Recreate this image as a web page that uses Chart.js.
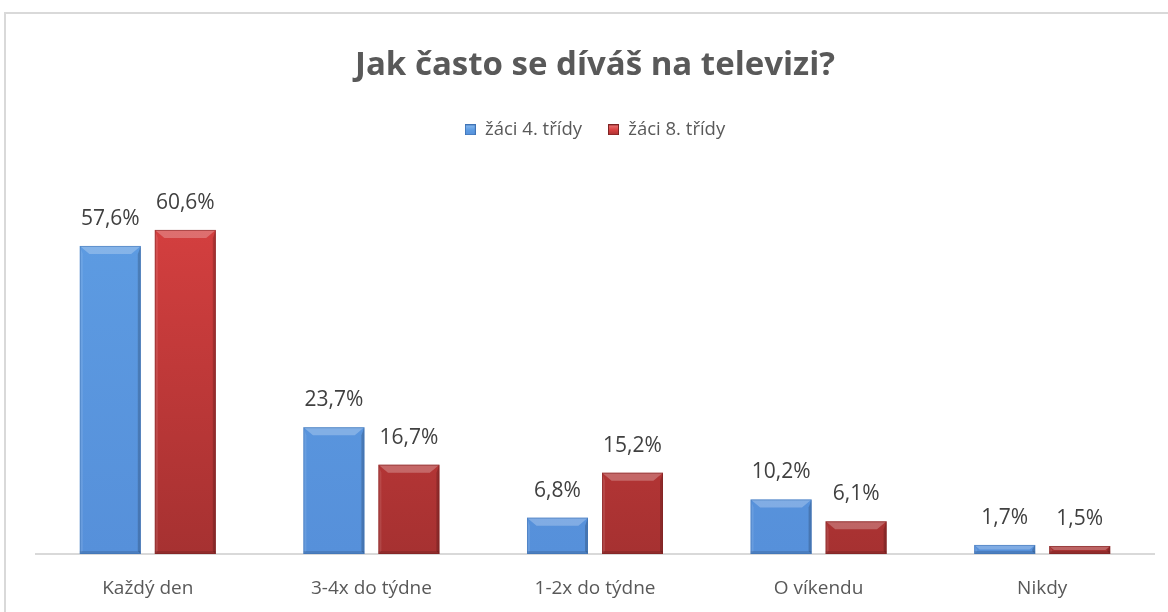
<!DOCTYPE html>
<html lang="cs">
<head>
<meta charset="utf-8">
<script src="https://cdn.jsdelivr.net/npm/chart.js@4"></script>
<style>
  html, body { margin: 0; padding: 0; background: #fff; }
  #wrap { position: relative; width: 1168px; height: 612px; }
  #frame { position: absolute; left: 4px; top: 12px; right: -4px; bottom: -4px;
           border-left: 2px solid #d9d9d9; border-top: 2px solid #d9d9d9; }
  canvas { position: absolute; left: 0; top: 0; }
</style>
</head>
<body>
<div id="wrap">
  <div id="frame"></div>
  <canvas id="chart" width="1168" height="612"></canvas>
</div>
<script>
// Kategorie a hodnoty (v %).
const CATEGORIES = ["Každý den", "3-4x do týdne", "1-2x do týdne", "O víkendu", "Nikdy"];
const GRADE4 = [57.6, 23.7, 6.8, 10.2, 1.7];
const GRADE8 = [60.6, 16.7, 15.2, 6.1, 1.5];
const SERIES_LABELS = ["žáci 4. třídy", "žáci 8. třídy"];

const FONT = "'Open Sans', 'Noto Sans', sans-serif";

// barvy: [nahoře, dole, okraj]
const PALETTE = [
  { top: "#5e9de3", bottom: "#5690da", edge: "#3f73b5" },
  { top: "#da4141", bottom: "#a63131", edge: "#7e2323" },
];

function fillFor(i) {
  return (ctx) => {
    const area = ctx.chart.chartArea;
    if (!area) return PALETTE[i].top;
    const g = ctx.chart.ctx.createLinearGradient(0, area.top, 0, area.bottom);
    g.addColorStop(0, PALETTE[i].top);
    g.addColorStop(1, PALETTE[i].bottom);
    return g;
  };
}

// zkosené hrany sloupců (efekt "bevel" jako v Excelu)
const bevel = {
  id: "bevel",
  afterDatasetsDraw(chart) {
    const c = chart.ctx;
    chart.data.datasets.forEach((ds, i) => {
      chart.getDatasetMeta(i).data.forEach((bar) => {
        const l = bar.x - bar.width / 2, r = bar.x + bar.width / 2;
        const t = bar.y, b = bar.base;
        const h = b - t;
        const d = Math.min(8, h / 2), s = Math.min(3, h / 2);
        c.save();
        // horní plocha
        c.fillStyle = "rgba(255,255,255,0.25)";
        c.beginPath();
        c.moveTo(l, t); c.lineTo(r, t); c.lineTo(r - d * 1.2, t + d); c.lineTo(l + d * 1.2, t + d);
        c.closePath(); c.fill();
        // levý okraj
        c.fillStyle = "rgba(255,255,255,0.10)";
        c.beginPath();
        c.moveTo(l, t); c.lineTo(l + s, t + d); c.lineTo(l + s, b - s); c.lineTo(l, b);
        c.closePath(); c.fill();
        // pravý okraj
        c.fillStyle = "rgba(0,0,0,0.18)";
        c.beginPath();
        c.moveTo(r, t); c.lineTo(r - s, t + d); c.lineTo(r - s, b - s); c.lineTo(r, b);
        c.closePath(); c.fill();
        // spodní okraj
        c.fillStyle = "rgba(0,0,0,0.12)";
        c.fillRect(l, b - s, bar.width, s);
        // obrys
        c.strokeStyle = PALETTE[i].edge;
        c.globalAlpha = 0.55;
        c.lineWidth = 1;
        c.strokeRect(l + 0.5, t + 0.5, bar.width - 1, h - 1);
        c.restore();
      });
    });
  },
};

// popisky hodnot nad sloupci
const valueLabels = {
  id: "valueLabels",
  afterDatasetsDraw(chart) {
    const c = chart.ctx;
    c.save();
    c.font = `21px ${FONT}`;
    c.fillStyle = "#404040";
    c.textAlign = "center";
    c.textBaseline = "middle";
    chart.data.datasets.forEach((ds, i) => {
      chart.getDatasetMeta(i).data.forEach((bar, j) => {
        const txt = ds.data[j].toFixed(1).replace(".", ",") + "%";
        c.fillText(txt, bar.x, bar.y - 27);
      });
    });
    c.restore();
  },
};

// mezera mezi legendou a grafem
const legendGap = {
  id: "legendGap",
  beforeInit(chart) {
    const fit = chart.legend.fit;
    chart.legend.fit = function () {
      fit.call(this);
      this.height = 85;
    };
  },
};

function legendBox(i) {
  const cv = document.createElement("canvas");
  cv.width = 11; cv.height = 11;
  const x = cv.getContext("2d");
  const g = x.createLinearGradient(0, 0, 0, 11);
  g.addColorStop(0, i === 0 ? "#8cbcf0" : "#ec7a7a");
  g.addColorStop(0.5, PALETTE[i].top);
  g.addColorStop(1, PALETTE[i].bottom);
  x.fillStyle = g;
  x.fillRect(0, 0, 11, 11);
  x.strokeStyle = PALETTE[i].edge;
  x.strokeRect(0.5, 0.5, 10, 10);
  return cv;
}

new Chart(document.getElementById("chart"), {
  type: "bar",
  data: {
    labels: CATEGORIES,
    datasets: [
      { label: SERIES_LABELS[0], data: GRADE4, backgroundColor: fillFor(0) },
      { label: SERIES_LABELS[1], data: GRADE8, backgroundColor: fillFor(1) },
    ],
  },
  options: {
    responsive: false,
    animation: false,
    layout: { padding: { left: 36, right: 14, top: 0, bottom: 0 } },
    datasets: { bar: { categoryPercentage: 0.671, barPercentage: 0.813 } },
    plugins: {
      title: {
        display: true,
        text: "Jak často se díváš na televizi?",
        color: "#595959",
        font: { family: FONT, size: 33, weight: "bold" },
        padding: { top: 46, bottom: 9 },
      },
      legend: {
        position: "top",
        labels: {
          color: "#595959",
          font: { family: FONT, size: 18.5 },
          usePointStyle: true,
          boxWidth: 11,
          boxHeight: 11,
          padding: 26,
          generateLabels: (chart) =>
            chart.data.datasets.map((ds, i) => ({
              text: ds.label,
              pointStyle: legendBox(i),
              fontColor: "#595959",
              datasetIndex: i,
              hidden: false,
              lineWidth: 0,
            })),
        },
      },
      tooltip: { enabled: false },
    },
    scales: {
      x: {
        grid: { display: false },
        border: { display: true, color: "#d9d9d9", width: 2 },
        ticks: { color: "#595959", font: { family: FONT, size: 19 }, padding: 15 },
        afterFit: (scale) => { scale.height = 58; },
      },
      y: { display: false, min: 0, max: 70 },
    },
  },
  plugins: [legendGap, bevel, valueLabels],
});
</script>
</body>
</html>
